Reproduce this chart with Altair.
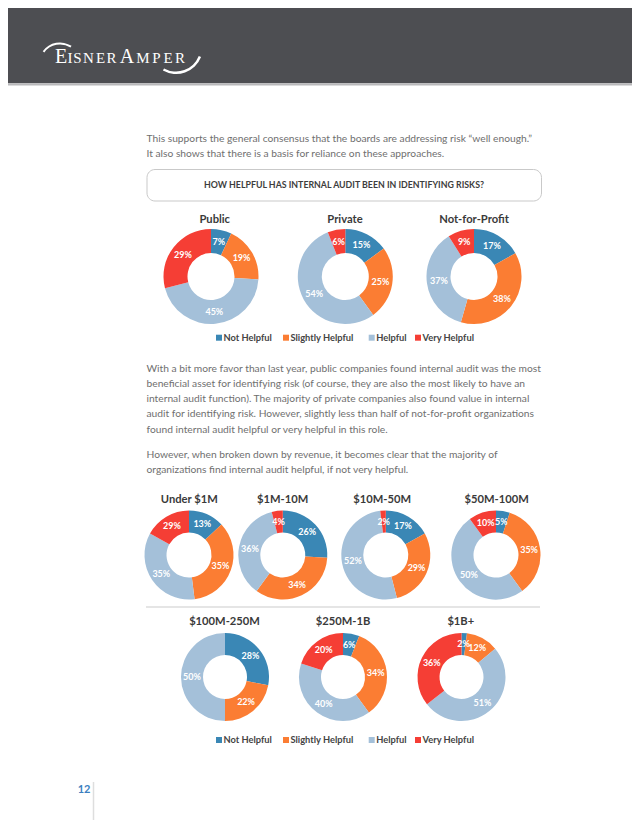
import math
import altair as alt
import pandas as pd

# ------------------------------------------------------------------ data
categories = ["Not Helpful", "Slightly Helpful", "Helpful", "Very Helpful"]
category_colors = ["#3a87b5", "#fb7d33", "#a4c0d9", "#f53e35"]

sector_names = ["Public", "Private", "Not-for-Profit"]
public_values = [7, 19, 45, 29]
private_values = [15, 25, 54, 6]
nonprofit_values = [17, 38, 37, 9]

revenue_names = ["Under $1M", "$1M-10M", "$10M-50M", "$50M-100M",
                 "$100M-250M", "$250M-1B", "$1B+"]
under_1m_values = [13, 35, 35, 17]      # slice sizes as drawn
under_1m_labels = [13, 35, 35, 29]      # percentages as printed
m1_10_values = [26, 34, 36, 4]
m10_50_values = [17, 29, 52, 2]
m50_100_values = [5, 35, 50, 10]
m100_250_values = [28, 22, 50, 0]
m250_1b_values = [6, 34, 40, 20]
b1_plus_values = [2, 12, 51, 36]

question = "HOW HELPFUL HAS INTERNAL AUDIT BEEN IN IDENTIFYING RISKS?"
para1 = [
    "This supports the general consensus that the boards are addressing risk \u201cwell enough.\u201d",
    "It also shows that there is a basis for reliance on these approaches.",
]
para2 = [
    "With a bit more favor than last year, public companies found internal audit was the most",
    "beneficial asset for identifying risk (of course, they are also the most likely to have an",
    "internal audit function).  The majority of private companies also found value in internal",
    "audit for identifying risk.  However, slightly less than half of not-for-profit organizations",
    "found internal audit helpful or very helpful in this role.",
]
para3 = [
    "However, when broken down by revenue, it becomes clear that the majority of",
    "organizations find internal audit helpful, if not very helpful.",
]
page_number = "12"
logo_letters = ["E", "I", "S", "N", "E", "R", "A", "M", "P", "E", "R"]

# ------------------------------------------------------------------ layout (page pixels)
OFF = 8
W, H = 640 - 2 * OFF, 828 - 2 * OFF

donut_layout = {
    "Public": (211, 276.5, 1), "Private": (345.3, 276.5, 1), "Not-for-Profit": (474, 276.5, 1),
    "Under $1M": (189, 555, 2), "$1M-10M": (282.8, 555, 2), "$10M-50M": (385.8, 555, 2),
    "$50M-100M": (496, 555, 2),
    "$100M-250M": (225, 677, 3), "$250M-1B": (343, 677, 3), "$1B+": (461.5, 677, 3),
}
title_layout = {
    "Public": (214.7, 220), "Private": (345, 220), "Not-for-Profit": (474, 220),
    "Under $1M": (189.3, 500), "$1M-10M": (282.7, 500), "$10M-50M": (382.2, 500),
    "$50M-100M": (496.7, 500),
    "$100M-250M": (224.5, 622.3), "$250M-1B": (343, 622.3), "$1B+": (460.8, 622.3),
}
ring_sizes = {1: (23.5, 47.5), 2: (22.5, 44.5), 3: (22, 44)}
legend_square_x = [219, 286, 371.7, 418]
legend_rows_y = [337.7, 740]
logo_x = [61, 70, 77.5, 88.5, 100.5, 111.5, 127, 143, 156.5, 168, 180]
logo_sizes = [20, 15, 15, 15, 15, 15, 20, 15, 15, 15, 15]

theta_scale = alt.Scale(domain=[0, 1], range=[0, 2 * math.pi])
color_scale = alt.Scale(domain=categories, range=category_colors)


def X(f):
    return alt.X(f, scale=None, axis=None)


def Y(f):
    return alt.Y(f, scale=None, axis=None)


# ------------------------------------------------------------------ donut table
charts = [
    ("Public", public_values, public_values),
    ("Private", private_values, private_values),
    ("Not-for-Profit", nonprofit_values, nonprofit_values),
    ("Under $1M", under_1m_values, under_1m_labels),
    ("$1M-10M", m1_10_values, m1_10_values),
    ("$10M-50M", m10_50_values, m10_50_values),
    ("$50M-100M", m50_100_values, m50_100_values),
    ("$100M-250M", m100_250_values, m100_250_values),
    ("$250M-1B", m250_1b_values, m250_1b_values),
    ("$1B+", b1_plus_values, b1_plus_values),
]
rows = []
for name, vals, labs in charts:
    cx, cy, ring = donut_layout[name]
    for i, (c, v, l) in enumerate(zip(categories, vals, labs)):
        rows.append(dict(chart=name, cat=c, order=i, value=v, label=f"{l}%",
                         cx=cx - OFF, cy=cy - OFF, ring=ring))
donut_df = pd.DataFrame(rows)

layers = []


def rect(x1, x2, y1, y2, **kw):
    d = pd.DataFrame({"x": [x1 - OFF], "x2": [x2 - OFF], "y": [y1 - OFF], "y2": [y2 - OFF]})
    return alt.Chart(d).mark_rect(**kw).encode(x=X("x:Q"), x2="x2:Q", y=Y("y:Q"), y2="y2:Q")


# header band
layers.append(rect(0, 640, 0, 83.3, color="#4d4e52"))
layers.append(rect(0, 640, 83.3, 85.5, color="#b9b9bb"))

# logo
logo_df = pd.DataFrame({"x": [v - OFF for v in logo_x], "y": [63.3 - OFF] * len(logo_x),
                        "text": logo_letters, "size": logo_sizes})
layers.append(alt.Chart(logo_df).mark_text(font="Liberation Serif", color="white",
                                           baseline="alphabetic", align="center").encode(
    x=X("x:Q"), y=Y("y:Q"), text="text:N", size=alt.Size("size:Q", scale=None, legend=None)))


def swoosh(cx, cy, r1, r2, t1, t2):
    d = pd.DataFrame({"x": [cx - OFF], "y": [cy - OFF]})
    return alt.Chart(d).mark_arc(innerRadius=r1, outerRadius=r2, color="white").encode(
        x=X("x:Q"), y=Y("y:Q"), theta=alt.value(t1), theta2=alt.value(t2))


layers.append(swoosh(60, 64, 19.5, 21.5, 5.35, 6.85))
layers.append(swoosh(176, 47, 24.5, 27, 1.95, 3.65))


def text_layer(items, **kw):
    d = pd.DataFrame(items, columns=["x", "y", "text"])
    d["x"] = d["x"] - OFF
    d["y"] = d["y"] - OFF
    return alt.Chart(d).mark_text(**kw).encode(x=X("x:Q"), y=Y("y:Q"), text="text:N")


body_style = dict(font="Lato", fontSize=10.25, color="#6f6f6f", align="left", baseline="middle")
layers.append(text_layer([(146.5, 138.5 + 15 * i, t) for i, t in enumerate(para1)], **body_style))
layers.append(text_layer([(146.5, 368.5 + 15.25 * i, t) for i, t in enumerate(para2)], **body_style))
layers.append(text_layer([(146.5, 455 + 15.25 * i, t) for i, t in enumerate(para3)], **body_style))

# question box
layers.append(rect(147, 541.5, 169.5, 201, fill="white", stroke="#c9c9c9", strokeWidth=1,
                   cornerRadius=8))
layers.append(text_layer([(344, 185, question)], font="Lato", fontWeight="bold", fontSize=8.8,
                         color="#3d3d3d", align="center", baseline="middle"))

# donut titles
layers.append(text_layer([(x, y, n) for n, (x, y) in title_layout.items()],
                         font="Lato", fontWeight="bold", fontSize=11.2, color="#3a3a3a",
                         align="center", baseline="middle"))

# donuts
for ring, (ri, ro) in ring_sizes.items():
    base = alt.Chart(donut_df).transform_filter(
        alt.datum.ring == ring
    ).transform_window(
        cum="sum(value)", groupby=["chart"], sort=[alt.SortField("order")], frame=[None, 0]
    ).transform_joinaggregate(
        total="sum(value)", groupby=["chart"]
    ).transform_calculate(
        t0="(datum.cum - datum.value) / datum.total",
        t1="datum.cum / datum.total",
        tm="(datum.cum - datum.value / 2) / datum.total",
    )
    layers.append(base.mark_arc(innerRadius=ri, outerRadius=ro).encode(
        x=X("cx:Q"), y=Y("cy:Q"),
        theta=alt.Theta("t0:Q", scale=theta_scale, stack=False),
        theta2="t1:Q",
        color=alt.Color("cat:N", scale=color_scale, legend=None),
    ))
    layers.append(base.transform_filter("datum.value > 0").mark_text(
        radius=(ri + ro) / 2, font="Lato", fontWeight="bold", fontSize=9, color="white",
        align="center", baseline="middle").encode(
        x=X("cx:Q"), y=Y("cy:Q"),
        theta=alt.Theta("tm:Q", scale=theta_scale, stack=False),
        text="label:N",
    ))

# separator between revenue rows
sep_df = pd.DataFrame({"x": [146 - OFF], "x2": [540 - OFF], "y": [607 - OFF]})
layers.append(alt.Chart(sep_df).mark_rule(color="#dcdcdc", strokeWidth=1.5).encode(
    x=X("x:Q"), x2="x2:Q", y=Y("y:Q")))

# legends
leg_rows = []
for ly in legend_rows_y:
    for c, lx in zip(categories, legend_square_x):
        leg_rows.append(dict(cat=c, x=lx - OFF, y=ly - OFF, tx=lx + 4.5 - OFF))
leg_df = pd.DataFrame(leg_rows)
layers.append(alt.Chart(leg_df).mark_square(size=36, opacity=1).encode(
    x=X("x:Q"), y=Y("y:Q"), color=alt.Color("cat:N", scale=color_scale, legend=None)))
layers.append(alt.Chart(leg_df).mark_text(font="Lato", fontWeight="bold", fontSize=9.3,
                                          color="#444444", align="left", baseline="middle").encode(
    x=X("tx:Q"), y=Y("y:Q"), text="cat:N"))

# page number and footer line
layers.append(text_layer([(84, 790, page_number)], font="Lato", fontWeight="bold", fontSize=11,
                         color="#3c7fbf", align="center", baseline="middle"))
foot_df = pd.DataFrame({"x": [93.5 - OFF], "y": [782 - OFF], "y2": [828 - OFF]})
layers.append(alt.Chart(foot_df).mark_rule(color="#dedede", strokeWidth=1.5).encode(
    x=X("x:Q"), y=Y("y:Q"), y2="y2:Q"))

chart = alt.layer(*layers).properties(
    width=W, height=H, padding=0, autosize=alt.AutoSizeParams(type="none")
).configure_view(stroke=None)

chart.save("out.html", embed_options={"renderer": "svg", "actions": False})
